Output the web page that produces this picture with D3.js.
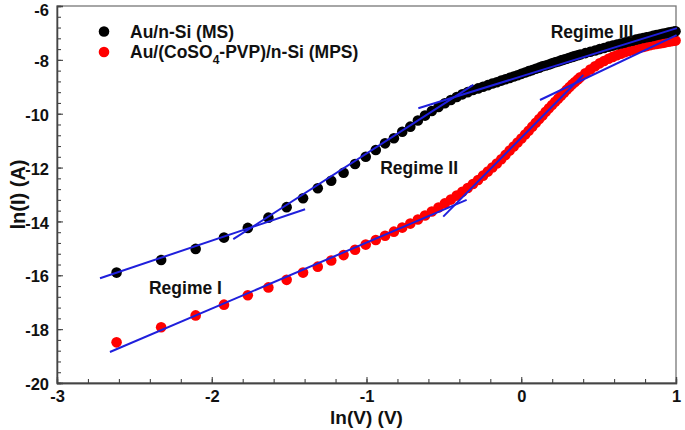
<!DOCTYPE html>
<html><head><meta charset="utf-8">
<script src="https://cdn.jsdelivr.net/npm/d3@7"></script>
<style>
html,body{margin:0;padding:0;background:#fff;}
svg{display:block;font-family:"Liberation Sans",Arial,sans-serif;font-weight:bold;}
</style></head>
<body><svg id="chart" width="685" height="430"></svg>
<script>
// ln(V) values shared by both samples
const lnV = [-2.615,-2.327,-2.104,-1.921,-1.767,-1.634,-1.516,-1.410,-1.315,-1.228,-1.148,-1.074,-1.005,-0.940,-0.880,-0.823,-0.769,-0.717,-0.668,-0.622,
 -0.578,-0.535,-0.494,-0.455,-0.417,-0.381,-0.346,-0.312,-0.279,-0.247,-0.216,-0.187,-0.158,-0.129,-0.102,-0.075,-0.049,-0.024,
 0.001,0.025,0.048,0.071,0.094,0.116,0.137,0.158,0.179,0.199,0.219,0.238,0.257,0.276,0.294,0.312,0.330,0.347,0.365,0.381,
 0.414,0.446,0.477,0.507,0.535,0.564,0.591,0.618,0.644,0.669,0.694,0.718,0.741,0.764,0.787,0.809,0.830,0.851,0.872,0.892,0.912,0.931,0.950,0.969,0.987,0.997];
// Au/n-Si (MS)
const lnI_MS = [-15.90,-15.43,-15.02,-14.60,-14.24,-13.86,-13.47,-13.14,-12.77,-12.49,-12.19,-11.87,-11.60,-11.35,-11.10,-10.91,-10.67,-10.48,-10.25,-10.07,
 -9.90,-9.75,-9.61,-9.49,-9.38,-9.28,-9.20,-9.12,-9.06,-9.00,-8.94,-8.88,-8.83,-8.77,-8.72,-8.67,-8.62,-8.57,
 -8.52,-8.47,-8.42,-8.38,-8.33,-8.29,-8.24,-8.21,-8.17,-8.13,-8.09,-8.06,-8.02,-7.99,-7.96,-7.92,-7.89,-7.86,-7.83,-7.80,
 -7.75,-7.70,-7.65,-7.60,-7.56,-7.51,-7.47,-7.43,-7.39,-7.36,-7.32,-7.29,-7.25,-7.22,-7.19,-7.16,-7.14,-7.11,-7.08,-7.06,-7.03,-7.01,-6.99,-6.97,-6.95,-6.94];
// Au/(CoSO4-PVP)/n-Si (MPS)
const lnI_MPS = [-18.49,-17.93,-17.49,-17.09,-16.74,-16.45,-16.17,-15.90,-15.68,-15.45,-15.25,-15.05,-14.86,-14.69,-14.53,-14.38,-14.23,-14.08,-13.93,-13.78,
 -13.63,-13.48,-13.33,-13.19,-13.04,-12.90,-12.76,-12.61,-12.46,-12.30,-12.15,-12.00,-11.85,-11.69,-11.53,-11.37,-11.22,-11.07,
 -10.92,-10.77,-10.63,-10.48,-10.34,-10.20,-10.07,-9.93,-9.80,-9.68,-9.56,-9.44,-9.33,-9.22,-9.11,-9.01,-8.91,-8.82,-8.73,-8.65,
 -8.50,-8.36,-8.24,-8.13,-8.04,-7.96,-7.89,-7.83,-7.77,-7.72,-7.67,-7.63,-7.59,-7.55,-7.52,-7.49,-7.46,-7.43,-7.41,-7.39,-7.37,-7.35,-7.33,-7.31,-7.29,-7.28];
// linear fits per regime [x1, y1, x2, y2]
const fitsMS  = [[-2.722,-16.11,-1.397,-13.55],[-1.861,-14.66,-0.310,-8.93],[-0.665,-9.80,1.006,-6.82]];
const fitsMPS = [[-2.658,-18.85,-0.353,-13.20],[-0.504,-13.82,0.401,-8.56],[0.121,-9.49,1.004,-7.08]];
const seriesNames = ["Au/n-Si (MS)", "Au/(CoSO4-PVP)/n-Si (MPS)"];
const regimeLabels = [["Regime I",-2.17,-16.47],["Regime II",-0.66,-12.02],["Regime III",0.457,-6.97]];
const xTicks = [-3,-2,-1,0,1];
const yTicks = [-20,-18,-16,-14,-12,-10,-8,-6];

const svg = d3.select("#chart");
const L=57, R=676, T=6, B=383;
const x = d3.scaleLinear().domain([-3,1]).range([L,R]);
const y = d3.scaleLinear().domain([-20,-6]).range([B,T]);

// frame
svg.append("rect").attr("x",L).attr("y",T).attr("width",R-L).attr("height",B-T)
  .attr("fill","none").attr("stroke","#777").attr("stroke-width",1.3);

// axes with inward ticks
const gx = svg.append("g").attr("transform",`translate(0,${B})`)
  .call(d3.axisBottom(x).tickValues(d3.range(-3,1.001,0.2)).tickSize(-4).tickFormat(""));
const gx2 = svg.append("g").attr("transform",`translate(0,${B})`)
  .call(d3.axisBottom(x).tickValues(xTicks).tickSize(-6).tickPadding(10).tickFormat(d3.format("d")));
const gy = svg.append("g").attr("transform",`translate(${L},0)`)
  .call(d3.axisLeft(y).tickValues(d3.range(-20,-5.99,0.4)).tickSize(-4).tickFormat(""));
const gy2 = svg.append("g").attr("transform",`translate(${L},0)`)
  .call(d3.axisLeft(y).tickValues(yTicks).tickSize(-6).tickPadding(8).tickFormat(d3.format("d")));
[gx,gx2,gy,gy2].forEach(g=>{
  g.selectAll(".domain").attr("stroke","#444").attr("stroke-width",1.3);
  g.selectAll(".tick line").attr("stroke","#444").attr("stroke-width",1.1);
  g.selectAll("text").attr("fill","#111").attr("font-size",16.5).attr("font-weight","bold")
   .attr("font-family","Liberation Sans, Arial, sans-serif");
});
gx2.selectAll("text").attr("dy","0.35em").attr("y",13);
gy2.selectAll("text").attr("dy",d=>d===-6 ? "0.55em" : "0.4em");
gx2.selectAll(".tick text").each(function(){ d3.select(this).text(d3.select(this).text().replace("−","-")); });
gy2.selectAll(".tick text").each(function(){ d3.select(this).text(d3.select(this).text().replace("−","-")); });

// axis titles
svg.append("text").attr("x",(L+R)/2).attr("y",424).attr("text-anchor","middle")
  .attr("font-size",19).attr("fill","#111").text("ln(V) (V)");
svg.append("text").attr("transform",`translate(25,${(T+B)/2}) rotate(-90)`).attr("text-anchor","middle")
  .attr("font-size",20).attr("fill","#111").text("ln(I) (A)");

// data points
const dataMS = lnV.map((v,i)=>[v,lnI_MS[i]]);
const dataMPS = lnV.map((v,i)=>[v,lnI_MPS[i]]);
svg.append("g").selectAll("circle").data(dataMPS).join("circle")
  .attr("cx",d=>x(d[0])).attr("cy",d=>y(d[1])).attr("r",5.3).attr("fill","#f00");
svg.append("g").selectAll("circle").data(dataMS).join("circle")
  .attr("cx",d=>x(d[0])).attr("cy",d=>y(d[1])).attr("r",5.3).attr("fill","#000");

// fit lines
svg.append("g").selectAll("line").data(fitsMS.concat(fitsMPS)).join("line")
  .attr("x1",d=>x(d[0])).attr("y1",d=>y(d[1])).attr("x2",d=>x(d[2])).attr("y2",d=>y(d[3]))
  .attr("stroke","#1f1fdc").attr("stroke-width",2);

// regime labels
svg.append("g").selectAll("text").data(regimeLabels).join("text")
  .attr("x",d=>x(d[1])).attr("y",d=>y(d[2])).attr("text-anchor","middle").attr("dy","0.35em")
  .attr("font-size",17.5).attr("fill","#111").text(d=>d[0]);

// legend
const leg = svg.append("g");
const legColors = ["#000","#f00"];
seriesNames.forEach((n,i)=>{
  leg.append("circle").attr("cx",104).attr("cy",31.5+i*20.5).attr("r",5.3).attr("fill",legColors[i]);
});
leg.append("text").attr("x",130).attr("y",31.5).attr("dy","0.35em").attr("font-size",17.5).attr("fill","#111").text(seriesNames[0]);
const t2 = leg.append("text").attr("x",130).attr("y",52).attr("dy","0.35em").attr("font-size",17.5).attr("fill","#111");
t2.append("tspan").text("Au/(CoSO");
t2.append("tspan").attr("font-size",12).attr("dy","0.45em").text("4");
t2.append("tspan").attr("dy","-0.3em").text("-PVP)/n-Si (MPS)");
</script></body></html>
